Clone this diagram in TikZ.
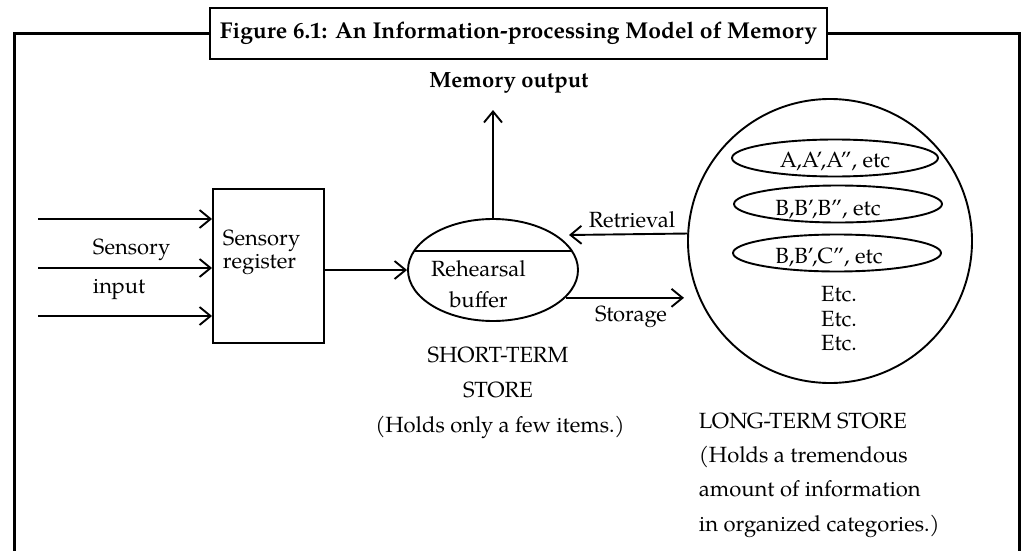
\documentclass[tikz,border=0pt]{standalone}
\usepackage{fontspec}
\setmainfont{TeX Gyre Pagella}
\usetikzlibrary{arrows.meta,shapes.geometric,calc}
\begin{document}
\begin{tikzpicture}[x=1pt,y=-1pt,line width=1.9pt,
  arr/.style={-{Straight Barb[length=11pt,width=18pt,line width=1.9pt]}},
  txt/.style={font=\fontsize{22}{24}\selectfont,inner sep=0pt},
  btxt/.style={font=\fontsize{22}{24}\selectfont\bfseries,inner sep=0pt},
  box/.style={draw,rectangle,inner sep=0pt},
  oval/.style={draw,ellipse,inner sep=0pt}]
\useasboundingbox (0,0) rectangle (1031,551);
% title and frame
\node[box,minimum width=617pt,minimum height=51pt,btxt,font=\fontsize{22.9}{24}\selectfont\bfseries] (title) at (518.5,33.5) {Figure 6.1: An Information-processing Model of Memory};
\coordinate (fbl) at (14.5,553);
\coordinate (fbr) at (1019.5,553);
\draw[line width=2.2pt] (fbl) |- (title.west);
\draw[line width=2.2pt] (title.east) -| (fbr);
% memory output
\node[btxt,anchor=base] (mo) at (509,88) {Memory output};
% sensory register
\node[box,minimum width=111pt,minimum height=154pt] (reg) at (268.5,266) {};
\node[txt,anchor=base west] (reg1) at (222,245) {Sensory};
\node[txt,anchor=base west] (reg2) at (222,268) {register};
% inputs
\coordinate (in1) at (38,219);
\coordinate (in2) at (38,268);
\coordinate (in3) at (38,316);
\draw[arr] (in1) -- (in1 -| reg.west);
\draw[arr] (in2) -- (in2 -| reg.west);
\draw[arr] (in3) -- (in3 -| reg.west);
\node[txt,anchor=base west] (si1) at (92,254) {Sensory};
\node[txt,anchor=base west] (si2) at (92,293) {input};
% short-term store
\node[oval,minimum width=170pt,minimum height=102pt] (sts) at (493,270) {};
\draw[arr] (reg.east |- sts.west) -- (sts.west);
\draw ($(sts.center)+(-78.9,-19)$) -- ($(sts.center)+(78.9,-19)$);
\node[txt,anchor=base] (rb1) at (478.5,276) {Rehearsal};
\node[txt,anchor=base] (rb2) at (478.5,307) {buffer};
\coordinate (moend) at (493,110);
\draw[arr] (sts.north) -- (moend);
\node[txt,anchor=base] (st1) at (498,362) {SHORT-TERM};
\node[txt,anchor=base] (st2) at (498,397) {STORE};
\node[txt,anchor=base] (st3) at (500,432) {(Holds only a few items.)};
% long-term store
\node[draw,circle,minimum size=284pt,inner sep=0pt] (lts) at (830,241) {};
\node[oval,minimum width=206pt,minimum height=37pt] (e1) at (835,158) {};
\node[oval,minimum width=208pt,minimum height=37pt] (e2) at (838,204) {};
\node[oval,minimum width=208pt,minimum height=37pt] (e3) at (837,253) {};
\node[txt,anchor=base] (t1) at (835,167) {A,A',A'', etc};
\node[txt,anchor=base] (t2) at (828,215) {B,B',B'', etc};
\node[txt,anchor=base] (t3) at (829,263) {B,B',C'', etc};
\node[txt,anchor=base] (etc1) at (839,301) {Etc.};
\node[txt,anchor=base] (etc2) at (839,326) {Etc.};
\node[txt,anchor=base] (etc3) at (839,350) {Etc.};
% retrieval / storage
\coordinate (retend) at (569,235);
\draw[arr] (lts.177.6) -- (retend);
\node[txt,anchor=base] (ret) at (632,227) {Retrieval};
\coordinate (stoend) at (684,298);
\draw[arr] (sts.-21) -- (sts.-21 -| stoend);
\node[txt,anchor=base] (sto) at (631,321) {Storage};
% long-term labels
\node[txt,anchor=base west] (lt1) at (698,428) {LONG-TERM STORE};
\node[txt,anchor=base west] (lt2) at (698,462) {(Holds a tremendous};
\node[txt,anchor=base west] (lt3) at (698,496) {amount of information};
\node[txt,anchor=base west] (lt4) at (698,531) {in organized categories.)};
\end{tikzpicture}
\end{document}
